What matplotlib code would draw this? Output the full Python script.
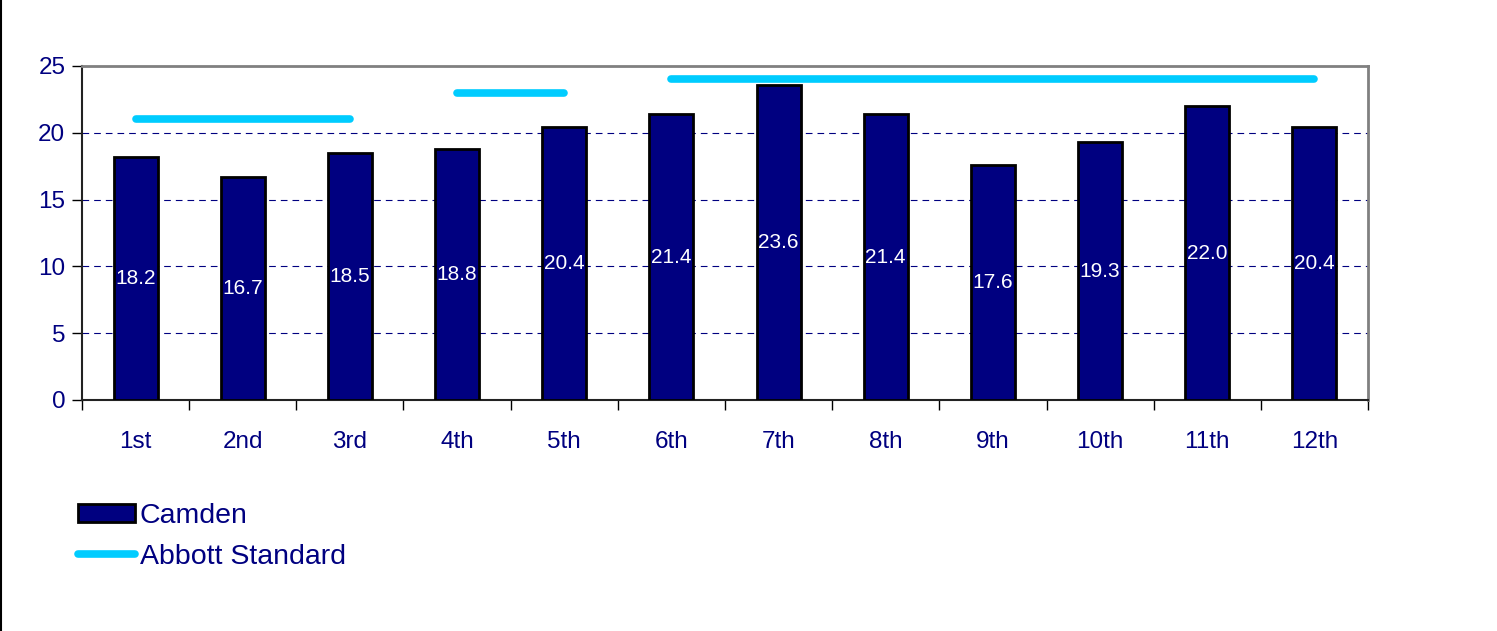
import matplotlib.pyplot as plt
import numpy as np
from matplotlib.lines import Line2D
from matplotlib.patches import Patch

plt.rcParams['font.family'] = ['Liberation Sans', 'DejaVu Sans']

months = ["1st", "2nd", "3rd", "4th", "5th", "6th", "7th", "8th", "9th", "10th", "11th", "12th"]
camden = [18.2, 16.7, 18.5, 18.8, 20.4, 21.4, 23.6, 21.4, 17.6, 19.3, 22.0, 20.4]
# Abbott standard, grouped by the period it applies to
abbott_groups = [(0, 2, 21), (3, 4, 23), (5, 11, 24)]

navy = "#000080"
cyan = "#00CCFF"

fig = plt.figure(figsize=(14.97, 6.31), dpi=100)
ax = fig.add_axes([82/1497, 1 - 400/631, (1368-82)/1497, (400-66)/631])

x = np.arange(len(months))
bars = ax.bar(x, camden, width=0.41, color=navy, edgecolor="black", linewidth=2, zorder=3)
for xi, v in zip(x, camden):
    ax.text(xi, v/2, "{:.1f}".format(v), color="white", ha="center", va="center", fontsize=15, zorder=4)

for a, b, val in abbott_groups:
    ax.plot([x[a], x[b]], [val, val], color=cyan, lw=5.5, solid_capstyle="round", zorder=5)

ax.set_xlim(-0.5, len(months) - 0.5)
ax.set_ylim(0, 25)
ax.set_yticks([0, 5, 10, 15, 20, 25])
ax.yaxis.grid(True, color=navy, linestyle=(0, (6, 4.5)), linewidth=0.8, zorder=1)
ax.set_axisbelow(True)

ax.set_xticks(x)
ax.set_xticklabels(months)
ax.set_xticks(np.arange(-0.5, len(months)), minor=True)
ax.tick_params(axis="x", which="major", length=0, pad=22, labelsize=17.5, labelcolor=navy)
ax.tick_params(axis="x", which="minor", length=7, width=1, direction="out", color="black")
ax.tick_params(axis="y", length=7, width=1, direction="out", labelsize=17.5, labelcolor=navy, pad=5)

for s in ["top", "right"]:
    ax.spines[s].set_color("#808080")
    ax.spines[s].set_linewidth(2)
for s in ["left", "bottom"]:
    ax.spines[s].set_color("#222222")
    ax.spines[s].set_linewidth(1.5)

handles = [Patch(facecolor=navy, edgecolor="black", linewidth=2),
           Line2D([], [], color=cyan, lw=5.5, solid_capstyle="round")]
fig.legend(handles, ["Camden", "Abbott Standard"], loc="upper left",
           bbox_to_anchor=(67/1497, 1 - 492/631), frameon=False, fontsize=20.5,
           labelcolor=navy, handlelength=2.0, handleheight=0.6, handletextpad=0.15,
           labelspacing=0.5, borderaxespad=0)

fig.add_artist(Line2D([1/1497, 1/1497], [0, 1], color="black", lw=1.5))

fig.savefig("out.png", dpi=100)
